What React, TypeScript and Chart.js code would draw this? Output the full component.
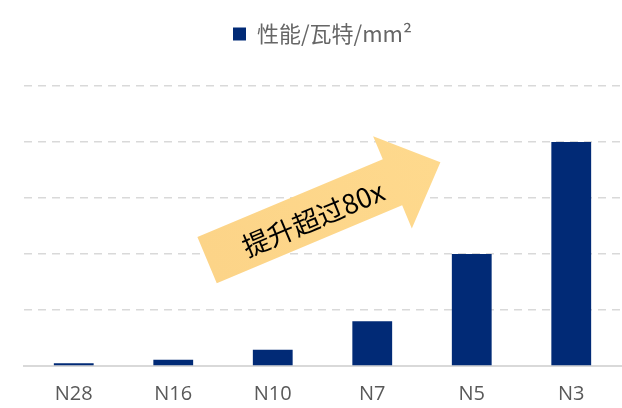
import React, { useEffect, useRef } from "react";
import { Chart, registerables } from "chart.js";

Chart.register(...registerables);

const categories = ["N28", "N16", "N10", "N7", "N5", "N3"];
const perfPerWattPerMm2 = [0.05, 0.11, 0.29, 0.8, 2, 4];
const seriesLabel = "性能/瓦特/mm²";
const arrowText = "提升超过80x";
// arrow tail / tip in data space: [category index, value]
const arrowTail = [1.34, 1.89];
const arrowTip = [3.685, 3.64];

const legendSpacer = {
  id: "legendSpacer",
  beforeInit(chart: any) {
    const origFit = chart.legend.fit;
    chart.legend.fit = function () {
      origFit.bind(chart.legend)();
      this.height = 73;
    };
  },
};

const arrowPlugin = {
  id: "arrowPlugin",
  afterDatasetsDraw(chart: any) {
    const { ctx, scales } = chart;
    const x = scales.x;
    const y = scales.y;
    const tx = x.getPixelForValue(arrowTail[0]);
    const ty = y.getPixelForValue(arrowTail[1]);
    const hx = x.getPixelForValue(arrowTip[0]);
    const hy = y.getPixelForValue(arrowTip[1]);
    const dx = hx - tx;
    const dy = hy - ty;
    const len = Math.sqrt(dx * dx + dy * dy);
    const ang = Math.atan2(dy, dx);
    const shaftHalf = 25;
    const headHalf = 50;
    const headLen = 52;
    ctx.save();
    ctx.translate(tx, ty);
    ctx.rotate(ang);
    const grad = ctx.createLinearGradient(0, 0, len, 0);
    grad.addColorStop(0, "#FCD488");
    grad.addColorStop(1, "#FED98D");
    ctx.fillStyle = grad;
    ctx.beginPath();
    ctx.moveTo(0, -shaftHalf);
    ctx.lineTo(len - headLen, -shaftHalf);
    ctx.lineTo(len - headLen, -headHalf);
    ctx.lineTo(len, 0);
    ctx.lineTo(len - headLen, headHalf);
    ctx.lineTo(len - headLen, shaftHalf);
    ctx.lineTo(0, shaftHalf);
    ctx.closePath();
    ctx.fill();
    ctx.fillStyle = "#000000";
    ctx.font = '27px "Noto Sans CJK SC"';
    ctx.textAlign = "center";
    ctx.textBaseline = "middle";
    ctx.fillText(arrowText, len * 0.45, 3);
    ctx.restore();
  },
};

export default function App() {
  const canvasRef = useRef<HTMLCanvasElement | null>(null);

  useEffect(() => {
    if (!canvasRef.current) return;
    const chart = new Chart(canvasRef.current, {
      type: "bar",
      data: {
        labels: categories,
        datasets: [
          {
            label: seriesLabel,
            data: perfPerWattPerMm2,
            backgroundColor: "#012A76",
            borderWidth: 0,
            barPercentage: 0.4,
            categoryPercentage: 1,
          },
        ],
      },
      options: {
        animation: false,
        responsive: true,
        maintainAspectRatio: false,
        layout: { padding: { top: 13, left: 24, right: 1, bottom: 0 } },
        plugins: {
          legend: {
            display: true,
            position: "top",
            labels: {
              boxWidth: 13,
              boxHeight: 13,
              padding: 10,
              color: "#666666",
              font: { size: 22, family: '"Noto Sans CJK SC", "Open Sans", sans-serif' },
            },
          },
          tooltip: { enabled: false },
        },
        scales: {
          x: {
            grid: { display: false, drawTicks: false },
            border: { display: true, color: "#D9D9D9", width: 2 },
            ticks: {
              color: "#595959",
              padding: 16,
              font: { size: 20, family: '"Open Sans", sans-serif' },
            },
            afterFit(scale: any) {
              scale.height = 42;
            },
          },
          y: {
            min: 0,
            max: 5,
            ticks: { display: false, stepSize: 1 },
            grid: { color: "#D9D9D9", lineWidth: 1.5, drawTicks: false },
            border: { display: false, dash: [8, 6] },
          },
        },
      },
      plugins: [legendSpacer, arrowPlugin],
    });
    return () => chart.destroy();
  }, []);

  return (
    <div style={{ position: "fixed", left: 0, top: 0, width: 622, height: 408, background: "#fff" }}>
      <canvas ref={canvasRef} />
    </div>
  );
}
